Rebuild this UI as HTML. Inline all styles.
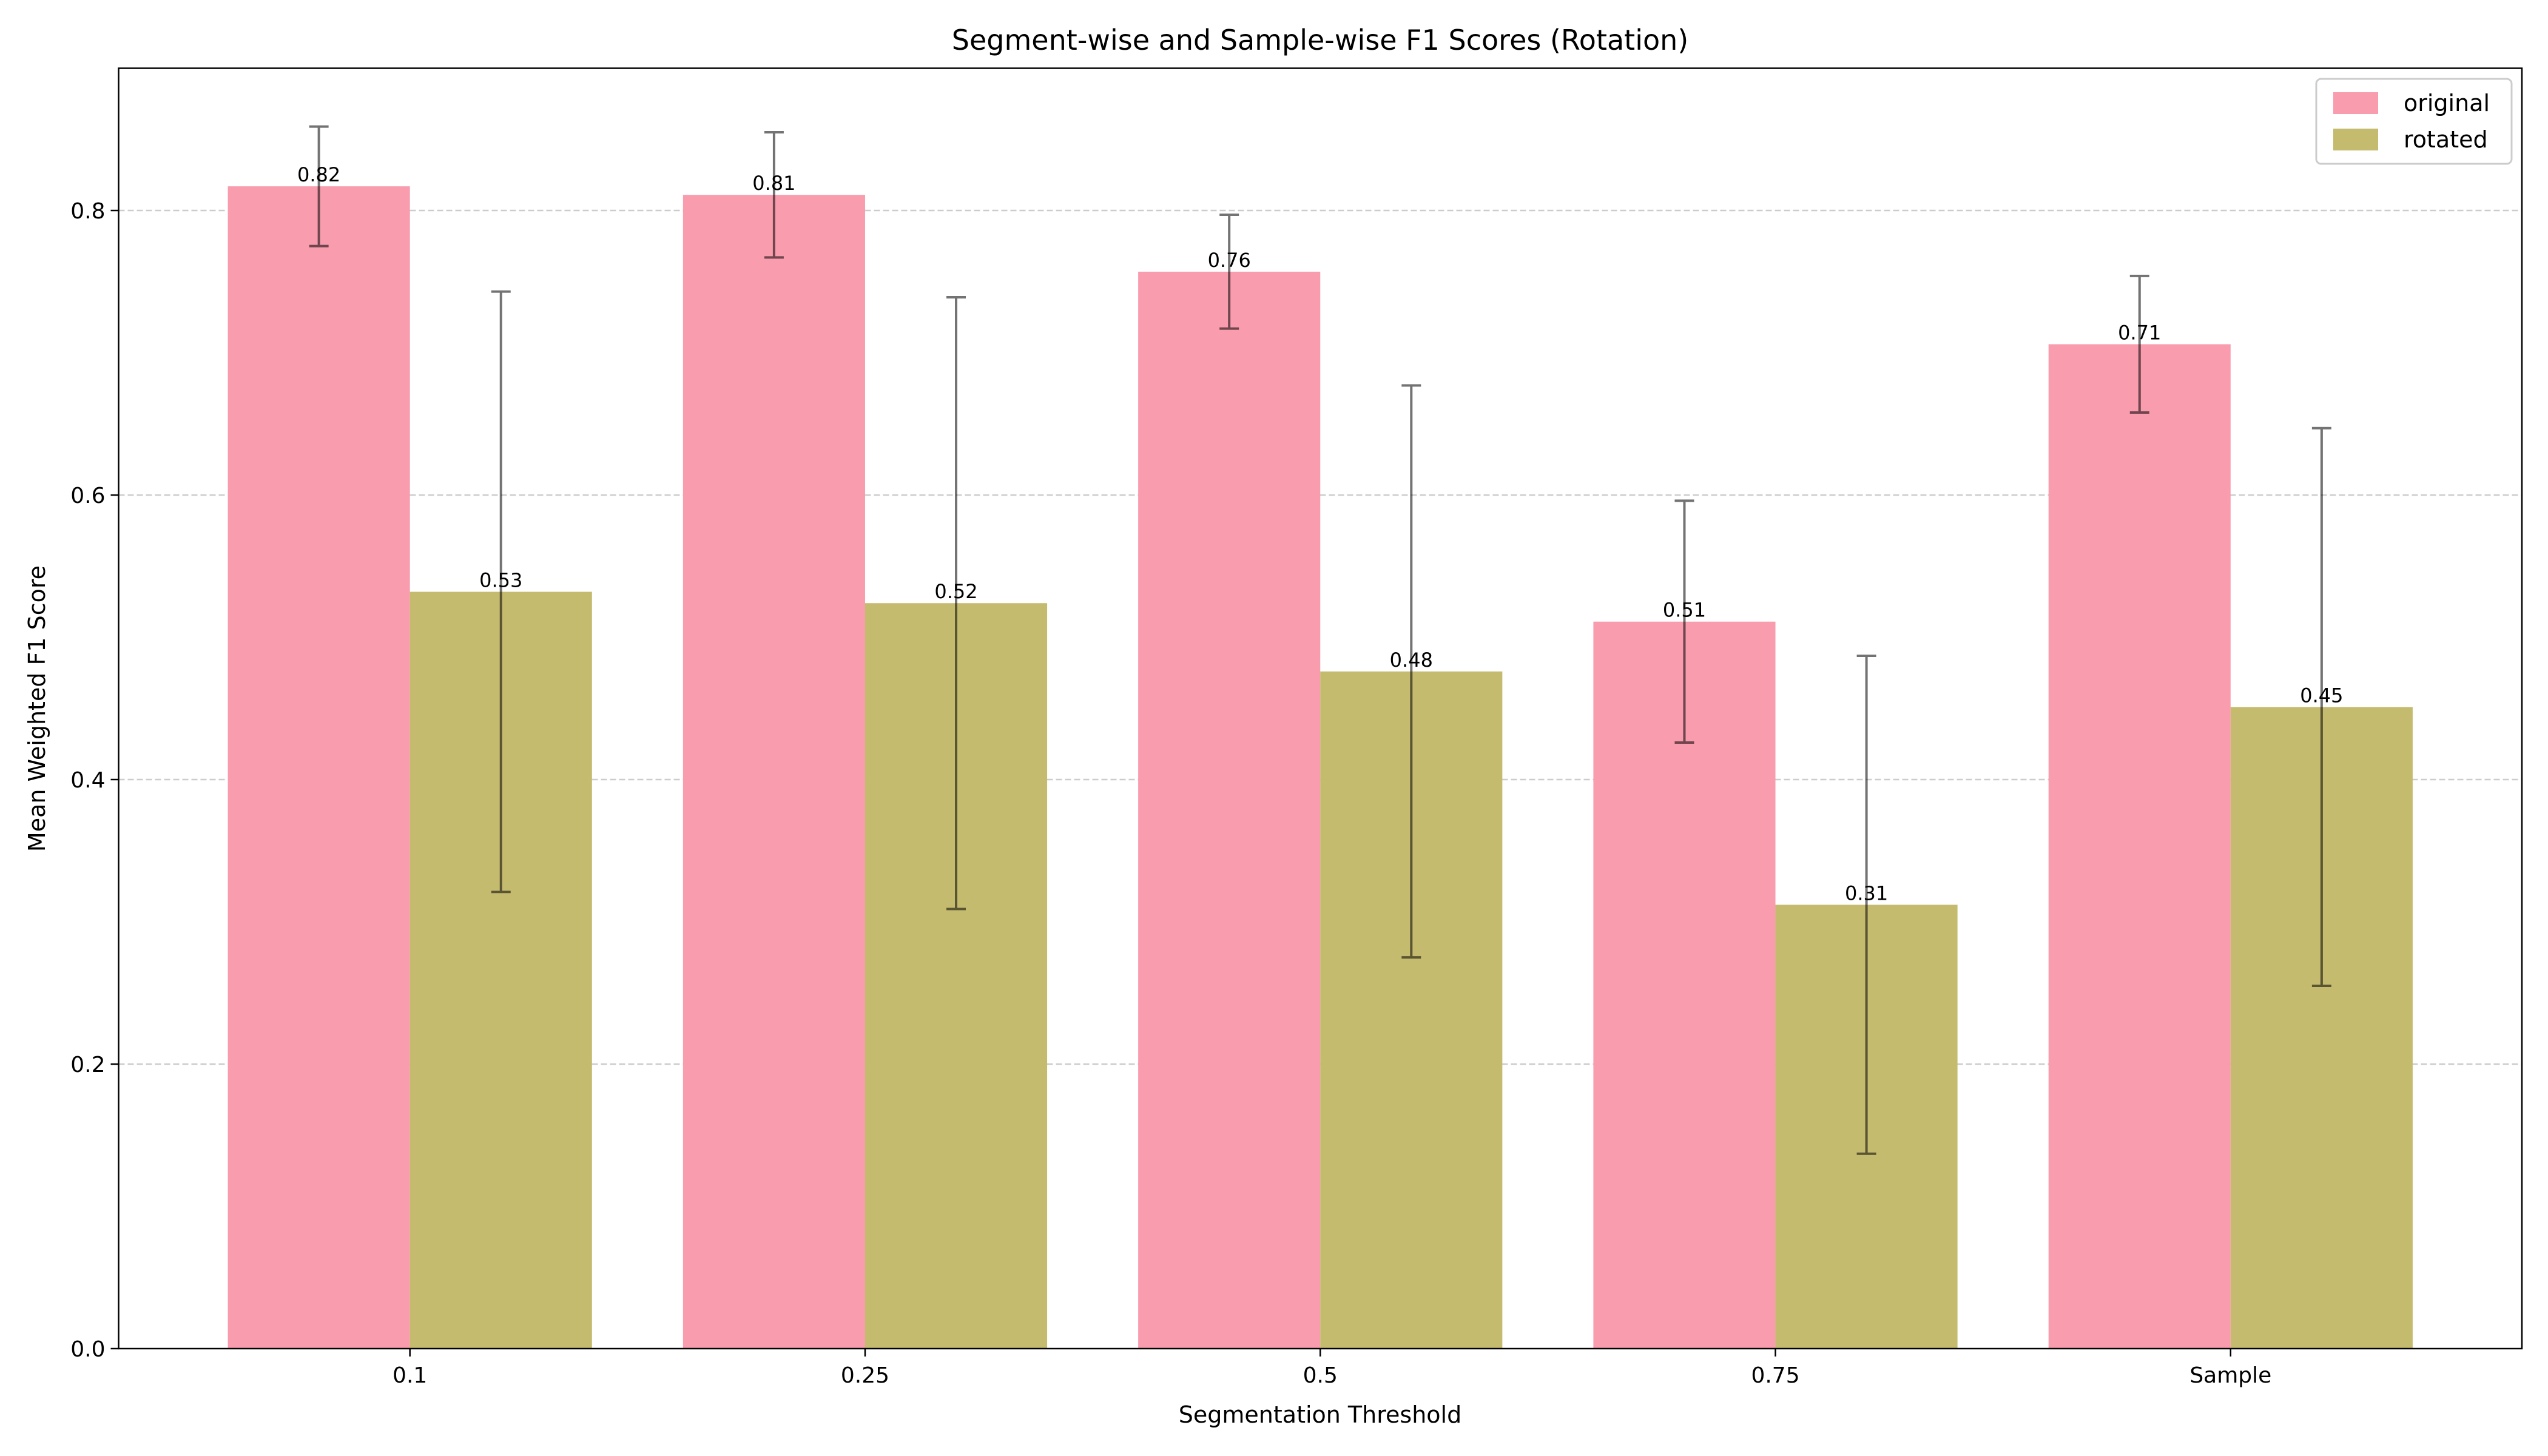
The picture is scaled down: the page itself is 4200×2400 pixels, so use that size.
<!DOCTYPE html>
<html><head><meta charset="utf-8"><style>
html,body{margin:0;padding:0;background:#fff}
svg{display:block;font-family:"DejaVu Sans","Liberation Sans",sans-serif}
</style></head><body>
<svg id="chart" width="4200" height="2400" viewBox="0 0 4200 2400" xmlns="http://www.w3.org/2000/svg">
<rect width="4200" height="2400" fill="#fff"/>
<g id="grid"></g>
<g id="bars"></g>
<g id="errs"></g>
<g id="labels"></g>
<g id="axes"></g>
<text x="2176" y="82" font-size="46" text-anchor="middle">Segment-wise and Sample-wise F1 Scores (Rotation)</text>
<text x="2176" y="2345" font-size="38" text-anchor="middle">Segmentation Threshold</text>
<text x="0" y="0" font-size="38" text-anchor="middle" transform="translate(74,1168) rotate(-90)">Mean Weighted F1 Score</text>
<g>
<rect x="3818" y="130" width="322" height="140" fill="#fff" stroke="#ccc" stroke-width="3" rx="8"/>
<rect x="3846" y="152" width="74" height="36" fill="#f89cae"/>
<text x="3962" y="183" font-size="38">original</text>
<rect x="3846" y="212" width="74" height="36" fill="#c5bb6e"/>
<text x="3962" y="243" font-size="38">rotated</text>
</g>
</svg>
<script>
const categories = ["0.1","0.25","0.5","0.75","Sample"];
const originalVals = [0.817,0.811,0.757,0.511,0.706];
const originalErr = [0.042,0.044,0.040,0.085,0.048];
const rotatedVals = [0.532,0.524,0.476,0.312,0.451];
const rotatedErr = [0.211,0.215,0.201,0.175,0.196];
const valueLabels1 = ["0.82","0.81","0.76","0.51","0.71"];
const valueLabels2 = ["0.53","0.52","0.48","0.31","0.45"];
const yTicks = [0,0.2,0.4,0.6,0.8];

const L=195.5,R=4157,T=112.5,B=2223;
const xMin=-0.64,xMax=4.64,yMax=0.9;
const xs=v=>L+(v-xMin)/(xMax-xMin)*(R-L);
const ys=v=>B-v/yMax*(B-T);
const NS="http://www.w3.org/2000/svg";
function mk(tag,attrs,parent,txt){const e=document.createElementNS(NS,tag);for(const k in attrs)e.setAttribute(k,attrs[k]);if(txt!==undefined)e.textContent=txt;document.getElementById(parent).appendChild(e);return e;}

yTicks.forEach((t,i)=>{
  if(t>0){const g=mk('line',{x1:L,x2:R,y1:ys(t),y2:ys(t),stroke:'#ccc','stroke-width':2.5,'stroke-dasharray':'10,5'},'grid');
  
  }
  const tk=mk('line',{x1:L-13,x2:L,y1:ys(t),y2:ys(t),stroke:'#000','stroke-width':2.5},'axes');
  
  
  const tl=mk('text',{x:L-22,y:ys(t)+13,'font-size':36,'text-anchor':'end'},'axes',t.toFixed(1));
  
  
});

const w=0.4;
function series(vals,errs,labs,off,color,name){
  vals.forEach((v,i)=>{
    const c=i+off;
    const b=mk('rect',{x:xs(c-w/2),width:xs(c+w/2)-xs(c-w/2),y:ys(v),height:B-ys(v),fill:color},'bars');
    
    
    const e=errs[i],cx=xs(c);
    const el=mk('path',{d:`M${cx},${ys(v-e)}V${ys(v+e)}M${cx-16},${ys(v-e)}H${cx+16}M${cx-16},${ys(v+e)}H${cx+16}`,stroke:'#000','stroke-opacity':0.55,'stroke-width':4,fill:'none'},'errs');
    
    
    const t=mk('text',{x:cx,y:ys(v)-8,'font-size':32,'text-anchor':'middle'},'labels',labs[i]);
    
    
  });
}
series(originalVals,originalErr,valueLabels1,-0.2,'#f89cae','original');
series(rotatedVals,rotatedErr,valueLabels2,0.2,'#c5bb6e','rotated');

categories.forEach((c,i)=>{
  const tk=mk('line',{x1:xs(i),x2:xs(i),y1:B,y2:B+13,stroke:'#000','stroke-width':2.5},'axes');
  
  
  const tl=mk('text',{x:xs(i),y:B+56,'font-size':36,'text-anchor':'middle'},'axes',c);
  
  
});
const fr=mk('rect',{x:L,y:T,width:R-L,height:B-T,fill:'none',stroke:'#000','stroke-width':2.5},'axes');


</script>
</body></html>
